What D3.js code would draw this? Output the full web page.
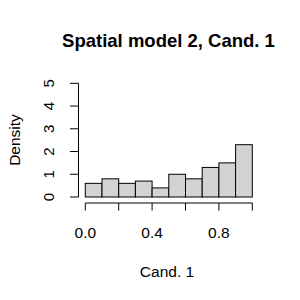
<!DOCTYPE html>
<html>
<head>
<meta charset="utf-8">
<script src="https://cdn.jsdelivr.net/npm/d3@7"></script>
<style>
  body { margin: 0; background: #fff; }
  text { font-family: "Liberation Sans", Arial, sans-serif; fill: #000; }
</style>
</head>
<body>
<div id="chart"></div>
<script>
// histogram bins (left edges) and densities
const binEdges = [0.0, 0.1, 0.2, 0.3, 0.4, 0.5, 0.6, 0.7, 0.8, 0.9, 1.0];
const densities = [0.6, 0.8, 0.6, 0.7, 0.4, 1.0, 0.8, 1.3, 1.5, 2.3];
const xTicks = [0, 0.2, 0.4, 0.6, 0.8, 1.0];
const xLabels = [0, 0.4, 0.8];
const yTicks = [0, 1, 2, 3, 4, 5];

const W = 300, H = 300;
const svg = d3.select('#chart').append('svg').attr('width', W).attr('height', H);

const x = d3.scaleLinear().domain([0, 1]).range([85.3, 252.3]);
const y = d3.scaleLinear().domain([0, 5]).range([197, 83.3]);

const bins = densities.map((d, i) => ({ x0: binEdges[i], x1: binEdges[i + 1], d }));

svg.append('g').selectAll('rect')
  .data(bins).join('rect')
  .attr('x', b => x(b.x0))
  .attr('y', b => y(b.d))
  .attr('width', b => x(b.x1) - x(b.x0))
  .attr('height', b => y(0) - y(b.d))
  .attr('fill', '#d3d3d3')
  .attr('stroke', '#000')
  .attr('stroke-width', 1);

// x axis (R style: line spans first to last tick)
const xa = svg.append('g').attr('stroke', '#000').attr('stroke-width', 1);
xa.append('line').attr('x1', x(0)).attr('x2', x(1)).attr('y1', 203).attr('y2', 203);
xa.selectAll('.t').data(xTicks).join('line')
  .attr('x1', d => x(d)).attr('x2', d => x(d)).attr('y1', 203).attr('y2', 210.5);
svg.append('g').selectAll('text').data(xLabels).join('text')
  .attr('x', d => x(d)).attr('y', 238)
  .attr('text-anchor', 'middle').attr('font-size', 15.5)
  .text(d => d3.format('.1f')(d));

// y axis
const ya = svg.append('g').attr('stroke', '#000').attr('stroke-width', 1);
ya.append('line').attr('x1', 78.5).attr('x2', 78.5).attr('y1', y(0)).attr('y2', y(5));
ya.selectAll('.t').data(yTicks).join('line')
  .attr('x1', 78.5).attr('x2', 70).attr('y1', d => y(d)).attr('y2', d => y(d));
svg.append('g').selectAll('text').data(yTicks).join('text')
  .attr('transform', d => `translate(53.8,${y(d)}) rotate(-90)`)
  .attr('text-anchor', 'middle').attr('font-size', 15)
  .text(d => d);

svg.append('text')
  .attr('x', 168.5).attr('y', 47)
  .attr('text-anchor', 'middle').attr('font-size', 18.5).attr('font-weight', 'bold')
  .text('Spatial model 2, Cand. 1');

svg.append('text')
  .attr('x', 167).attr('y', 276.5)
  .attr('text-anchor', 'middle').attr('font-size', 15.5)
  .text('Cand. 1');

svg.append('text')
  .attr('transform', `translate(19.5,140) rotate(-90)`)
  .attr('text-anchor', 'middle').attr('font-size', 15.5)
  .text('Density');
</script>
</body>
</html>
